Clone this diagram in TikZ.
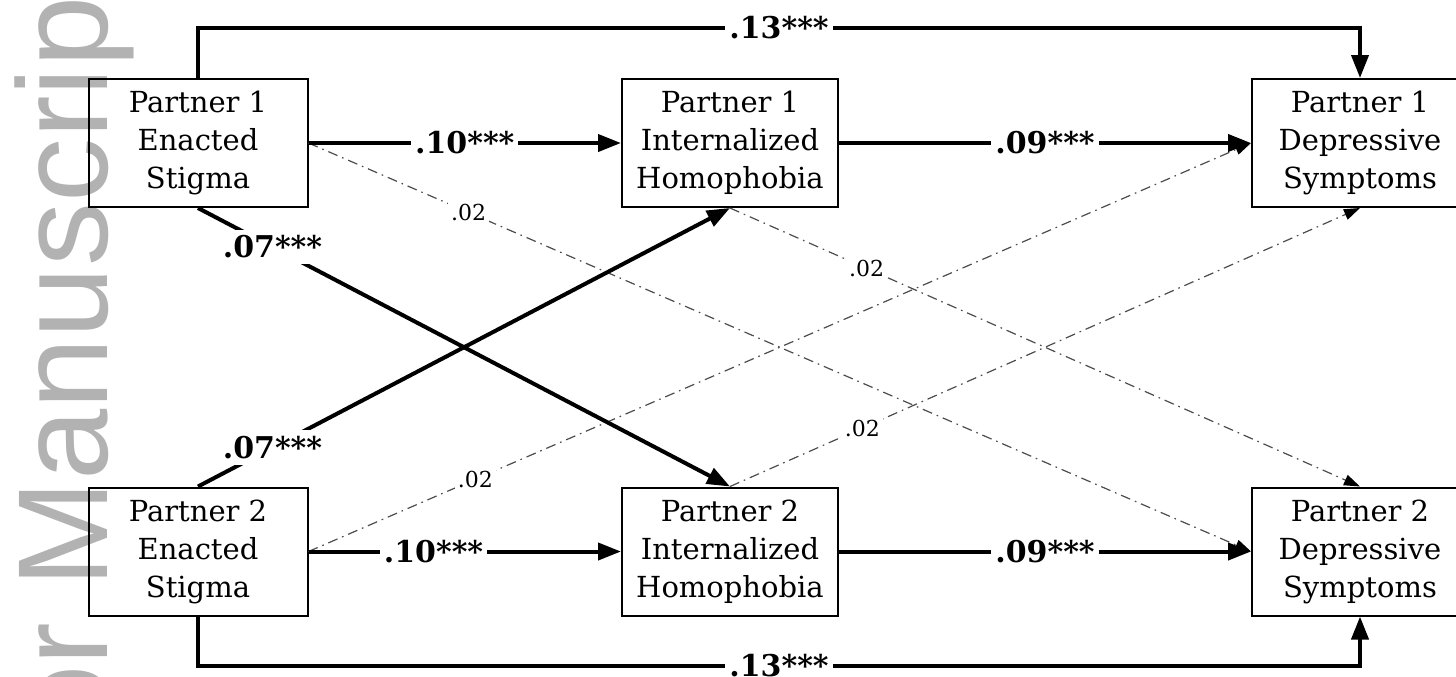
\documentclass[tikz,border=0pt]{standalone}
\usepackage{fontspec}
\setmainfont{DejaVu Serif}
\newfontfamily\wmfont{Liberation Sans}
\usetikzlibrary{arrows.meta}
\tikzset{
  box/.style={draw, line width=1pt, minimum height=64pt, align=center,
    font=\fontsize{14.5}{19}\selectfont, inner sep=0pt},
  strong/.style={line width=2pt, -{Triangle[length=11.5pt,width=8.5pt]}},
  weak/.style={line width=0.6pt, draw=black!70,
    dash pattern=on 5pt off 2.5pt on 0.8pt off 2.5pt,
    -{Triangle[length=8pt,width=5.5pt,color=black]}},
  blab/.style={fill=white, font=\bfseries\fontsize{15}{16}\selectfont, inner xsep=2pt, inner ysep=3pt},
  wlab/.style={fill=white, font=\fontsize{11}{12}\selectfont, inner sep=1.5pt},
  mark wm/.style={rotate=90, anchor=base west, text=black!30, inner sep=0pt,
    font=\wmfont\fontsize{64}{64}\selectfont},
}
\begin{document}
\begin{tikzpicture}[x=0.5pt, y=-0.5pt]
\useasboundingbox (0,0) rectangle (1456,676);
\begin{scope}
  \clip (0,0) rectangle (1456,676);
  \node[mark wm] (wm) at (107,1000) {Author Manuscript};

  % boxes
  \node[box, minimum width=109.5pt] (e1) at (198,143) {Partner 1\\Enacted\\Stigma};
  \node[box, minimum width=108pt] (i1) at (730,143) {Partner 1\\Internalized\\Homophobia};
  \node[box, minimum width=108pt] (d1) at (1360,143) {Partner 1\\Depressive\\Symptoms};
  \node[box, minimum width=109.5pt] (e2) at (198,551.5) {Partner 2\\Enacted\\Stigma};
  \node[box, minimum width=108pt] (i2) at (730,551.5) {Partner 2\\Internalized\\Homophobia};
  \node[box, minimum width=108pt] (d2) at (1360,551.5) {Partner 2\\Depressive\\Symptoms};

  % weak cross paths
  \draw[weak] (e1.east) -- node[wlab, pos=0.17] {.02} (d2.west);
  \draw[weak] (e2.east) -- node[wlab, pos=0.177] {.02} (d1.west);
  \draw[weak] (i1.south) -- node[wlab, pos=0.217] {.02} (d2.north);
  \draw[weak] (i2.north) -- node[wlab, pos=0.21] {.02} (d1.south);

  % strong paths
  \draw[strong] (e1) -- node[blab] {.10***} (i1);
  \draw[strong] (i1) -- node[blab] {.09***} (d1);
  \draw[strong] (e2) -- node[blab, pos=0.4] {.10***} (i2);
  \draw[strong] (i2) -- node[blab] {.09***} (d2);
  \draw[strong] (e1.south) -- node[blab, pos=0.14] {.07***} (i2.north);
  \draw[strong] (e2.north) -- node[blab, pos=0.14] {.07***} (i1.south);

  % direct effects
  \coordinate (tm) at (779,28);
  \coordinate (bm) at (779,666);
  \draw[strong] (e1.north) |- (tm) -| (d1.north);
  \node[blab] (t13) at (tm) {.13***};
  \draw[strong] (e2.south) |- (bm) -| (d2.south);
  \node[blab] (b13) at (bm) {.13***};
\end{scope}
\end{tikzpicture}
\end{document}
